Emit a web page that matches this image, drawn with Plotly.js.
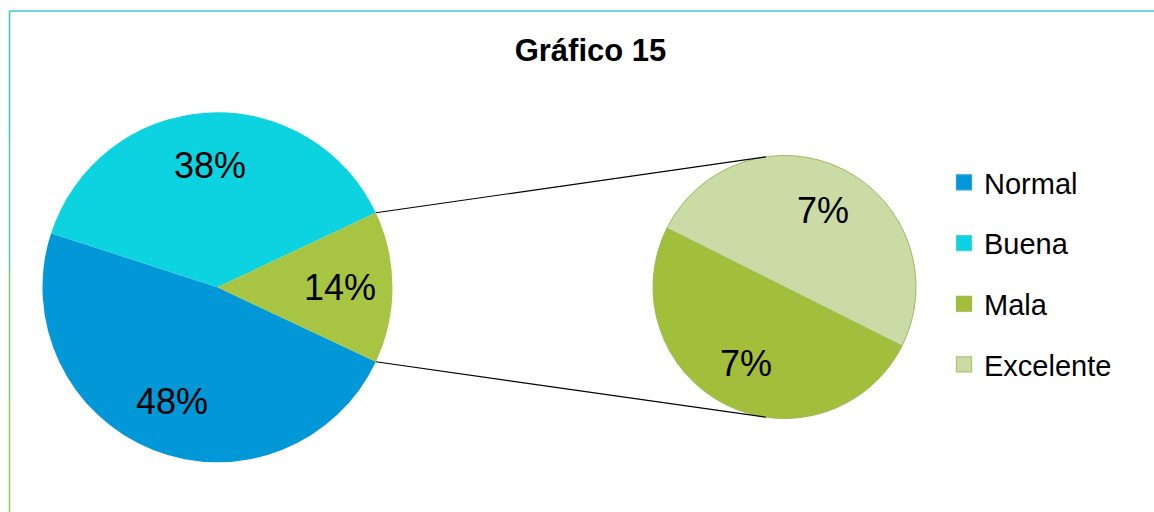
<!DOCTYPE html>
<html>
<head>
<meta charset="utf-8">
<script src="https://cdn.plot.ly/plotly-3.0.1.min.js"></script>
<style>
html,body{margin:0;padding:0;background:#ffffff;}
#chart{width:1154px;height:512px;}
</style>
</head>
<body>
<div id="chart"></div>
<script>
// ---- data ----
const chartTitle = 'Gráfico 15';
const categories = ['Normal', 'Buena', 'Mala', 'Excelente'];
const values = [48, 38, 7, 7];
const mainCategories = ['Normal', 'Buena'];
const secondaryCategories = ['Mala', 'Excelente'];
const otherLabel = 'Otros';

// ---- styles ----
const colors = {Normal: '#0297d7', Buena: '#0cd3df', Mala: '#a3be3a', Excelente: '#cbdba5'};
const legendLineColors = {Normal: '#2a9fd8', Buena: '#3fd5dc', Mala: '#9cb843', Excelente: '#a9c46a'};
const otherColor = '#a8c443';

const W = 1154, H = 512;
const L = {cx: 217.5, cy: 287.3, r: 175, k: 0.7};     // main pie geometry (px), label radius factor
const R = {cx: 784.5, cy: 287, r: 131.5, k: 0.65};    // secondary pie geometry (px)
const secondRotation = 116.6;

function domainOf(p) {
  return {x: [(p.cx - p.r) / W, (p.cx + p.r) / W], y: [1 - (p.cy + p.r) / H, 1 - (p.cy - p.r) / H]};
}
const val = name => values[categories.indexOf(name)];
const total = values.reduce((a, b) => a + b, 0);
const otherValue = secondaryCategories.reduce((a, n) => a + val(n), 0);
const half = otherValue / total * Math.PI;           // half-angle of "other" slice (rad)
const mainRotation = 90 + half * 180 / Math.PI;       // first slice starts at lower edge of "other"

const fontFamily = 'Liberation Sans, Arial, sans-serif';

const mainValues = mainCategories.map(val).concat([otherValue]);
const secondValues = secondaryCategories.map(val);

const mainPie = {
  type: 'pie',
  labels: mainCategories.concat([otherLabel]),
  values: mainValues,
  marker: {colors: mainCategories.map(n => colors[n]).concat([otherColor]), line: {width: 0}},
  sort: false, direction: 'clockwise', rotation: mainRotation,
  domain: domainOf(L), textinfo: 'none', hoverinfo: 'skip', showlegend: false
};
const secondPie = {
  type: 'pie',
  labels: secondaryCategories,
  values: secondValues,
  marker: {colors: secondaryCategories.map(n => colors[n]), line: {width: 1, color: '#9bbb59'}},
  sort: false, direction: 'clockwise', rotation: secondRotation,
  domain: domainOf(R), textinfo: 'none', hoverinfo: 'skip', showlegend: false
};
// legend entries
const legendTraces = categories.map((n, i) => ({
  type: 'scatter', mode: 'markers', x: [null], y: [null], name: n,
  legendgroup: 'g' + i, showlegend: true, hoverinfo: 'skip',
  marker: {symbol: 'square', size: 15, color: colors[n], line: {width: 1.2, color: legendLineColors[n]}}
}));

// percentage labels placed at each slice's mid-angle
function sliceLabels(vals, geom, rotation, shareOf) {
  const sum = vals.reduce((a, b) => a + b, 0);
  let start = rotation;
  return vals.map(v => {
    const mid = (start + v / sum * 180) * Math.PI / 180;
    start += v / sum * 360;
    const px = geom.cx + geom.k * geom.r * Math.sin(mid);
    const py = geom.cy - geom.k * geom.r * Math.cos(mid);
    return {x: px / W, y: 1 - py / H, xref: 'paper', yref: 'paper', showarrow: false,
            text: Math.round(v / shareOf * 100) + '%', xanchor: 'center', yanchor: 'middle',
            font: {family: fontFamily, size: 36, color: '#000000'}};
  });
}
const annotations = sliceLabels(mainValues, L, mainRotation, total)
  .concat(sliceLabels(secondValues, R, secondRotation, total));

// connector lines: from "other" slice edges to tangent points on second pie
const pUp = [L.cx + L.r * Math.cos(half), L.cy - L.r * Math.sin(half)];
const pDn = [L.cx + L.r * Math.cos(half), L.cy + L.r * Math.sin(half)];
function tangent(P, C, upper) {
  const dx = P[0] - C.cx, dy = C.cy - P[1];
  const d = Math.hypot(dx, dy), phi = Math.atan2(dy, dx), a = Math.acos(C.r / d);
  const ang = upper ? phi - a : phi + a;
  return [C.cx + C.r * Math.cos(ang), C.cy - C.r * Math.sin(ang)];
}
const tUp = tangent(pUp, R, true), tDn = tangent(pDn, R, false);
function seg(a, b, color, width) {
  return {type: 'line', xref: 'paper', yref: 'paper', x0: a[0] / W, y0: 1 - a[1] / H, x1: b[0] / W, y1: 1 - b[1] / H,
          line: {color: color, width: width}, layer: 'above'};
}
const shapes = [
  seg(pUp, tUp, '#000000', 1.1),
  seg(pDn, tDn, '#000000', 1.1),
  // chart-area border (cyan to green)
  seg([9.5, 11], [W, 11], '#3ec8d2', 1.6),
  seg([9.5, 11], [9.5, 140], '#40c9cc', 1.6),
  seg([9.5, 140], [9.5, 270], '#5acbab', 1.6),
  seg([9.5, 270], [9.5, 400], '#76ce80', 1.6),
  seg([9.5, 400], [9.5, H], '#8ed05a', 1.6)
];

const layout = {
  width: W, height: H,
  margin: {l: 0, r: 0, t: 0, b: 0},
  paper_bgcolor: '#ffffff', plot_bgcolor: '#ffffff',
  title: {text: '<b>' + chartTitle + '</b>', x: 590.5 / W, xanchor: 'center', y: 1 - 50 / H, yanchor: 'middle',
          xref: 'paper', yref: 'paper', font: {family: fontFamily, size: 31, color: '#000000'}},
  xaxis: {visible: false}, yaxis: {visible: false},
  showlegend: true,
  legend: {x: 944 / W, xanchor: 'left', y: 1 - 157 / H, yanchor: 'top', tracegroupgap: 20,
           font: {family: fontFamily, size: 29, color: '#000000'},
           bgcolor: 'rgba(0,0,0,0)', itemclick: false, itemdoubleclick: false},
  annotations: annotations,
  shapes: shapes
};

Plotly.newPlot('chart', [mainPie, secondPie].concat(legendTraces), layout, {displayModeBar: false, staticPlot: true});
</script>
</body>
</html>
